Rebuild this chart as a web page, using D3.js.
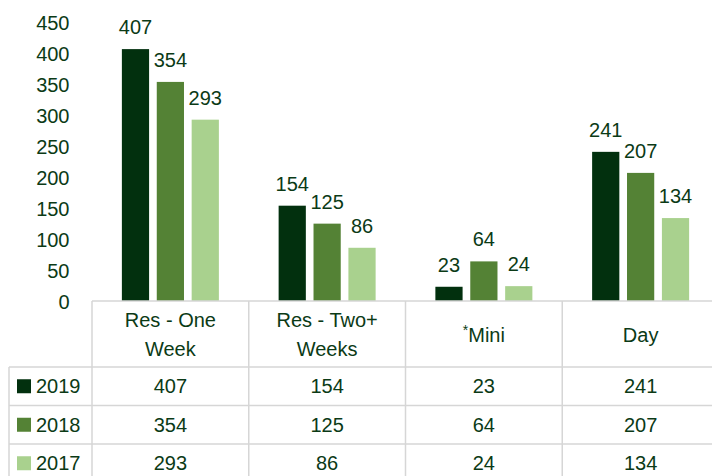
<!DOCTYPE html>
<html>
<head>
<meta charset="utf-8">
<script src="https://cdn.jsdelivr.net/npm/d3@7/dist/d3.min.js"></script>
<style>
  html, body { margin: 0; padding: 0; background: #fff; }
  svg { display: block; }
  text { font-family: "Liberation Sans", Arial, sans-serif; fill: #0b3a16; }
</style>
</head>
<body>
<svg id="chart" width="712" height="476"></svg>
<script>
// ---- data ----
const categories = ["Res - One Week", "Res - Two+ Weeks", "*Mini", "Day"];
const headerLines = [["Res - One", "Week"], ["Res - Two+", "Weeks"], ["*Mini"], ["Day"]];
const seriesNames = ["2019", "2018", "2017"];
const values2019 = [407, 154, 23, 241];
const values2018 = [354, 125, 64, 207];
const values2017 = [293, 86, 24, 134];
const yTicks = [0, 50, 100, 150, 200, 250, 300, 350, 400, 450];
const seriesColors = ["#02300e", "#548235", "#a9d18e"];

const seriesValues = [values2019, values2018, values2017];
const series = seriesNames.map((name, i) => ({ name, color: seriesColors[i], values: seriesValues[i] }));

// ---- layout ----
const W = 712, H = 476;
const plotLeft = 92, plotRight = 719;
const baseY = 301, topY = 22.5;
const svg = d3.select("#chart");

const x = d3.scaleBand().domain(categories).range([plotLeft, plotRight]).padding(0);
const groupW = 97;
const x1 = d3.scaleBand().domain(seriesNames).range([0, groupW]).paddingInner(0.22);
const y = d3.scaleLinear().domain([0, 450]).range([baseY, topY]);

const fs = 20;
const gridColor = "#d6d6d6";

// y-axis tick labels (no line)
const yAxis = d3.axisLeft(y).tickValues(yTicks).tickSize(0).tickPadding(0);
const gy = svg.append("g").attr("transform", "translate(69.5,1)").call(yAxis);
gy.select(".domain").remove();
gy.selectAll("text").attr("font-size", fs).attr("fill", "#0b3a16")
  .style("font-family", "'Liberation Sans', Arial, sans-serif");

// bars
const groups = svg.append("g").selectAll("g").data(series).join("g");
groups.selectAll("rect")
  .data(s => s.values.map((v, i) => ({ s, v, c: categories[i] })))
  .join("rect")
  .attr("x", d => x(d.c) + (x.bandwidth() - groupW) / 2 + x1(d.s.name))
  .attr("width", x1.bandwidth())
  .attr("y", d => y(d.v))
  .attr("height", d => baseY - y(d.v))
  .attr("fill", d => d.s.color);

// value labels
groups.selectAll("text.val")
  .data(s => s.values.map((v, i) => ({ s, v, c: categories[i] })))
  .join("text")
  .attr("class", "val")
  .attr("x", d => x(d.c) + (x.bandwidth() - groupW) / 2 + x1(d.s.name) + x1.bandwidth() / 2)
  .attr("y", d => y(d.v) - 15)
  .attr("text-anchor", "middle")
  .attr("font-size", fs)
  .text(d => d.v);

// ---- data table ----
const headerTop = baseY, headerBottom = 367;
const rowH = 38.5;
const rows = d3.scaleBand().domain(seriesNames).range([headerBottom, headerBottom + rowH * 3]);
const legendLeft = 9;
const tbl = svg.append("g");

// horizontal lines
tbl.append("line").attr("x1", plotLeft).attr("x2", W).attr("y1", headerTop).attr("y2", headerTop);
[headerBottom, ...seriesNames.map(n => rows(n) + rows.bandwidth())].forEach(yy => {
  tbl.append("line").attr("x1", legendLeft).attr("x2", W).attr("y1", yy).attr("y2", yy);
});
// vertical lines
tbl.append("line").attr("x1", legendLeft).attr("x2", legendLeft).attr("y1", headerBottom).attr("y2", H);
categories.forEach(c => {
  tbl.append("line").attr("x1", x(c)).attr("x2", x(c)).attr("y1", headerTop).attr("y2", H);
});
tbl.selectAll("line").attr("stroke", gridColor).attr("stroke-width", 1.5);

// header text
categories.forEach((c, i) => {
  const cx = x(c) + x.bandwidth() / 2;
  const lines = headerLines[i];
  if (lines.length === 2) {
    lines.forEach((ln, j) => {
      tbl.append("text").attr("x", cx).attr("y", 327 + j * 29)
        .attr("text-anchor", "middle").attr("font-size", fs).text(ln);
    });
  } else {
    const t = tbl.append("text").attr("x", cx).attr("y", 342)
      .attr("text-anchor", "middle").attr("font-size", fs);
    if (lines[0].startsWith("*")) {
      t.append("tspan").attr("font-size", 14).attr("dy", -7).text("*");
      t.append("tspan").attr("dy", 7).text(lines[0].slice(1));
    } else {
      t.text(lines[0]);
    }
  }
});

// row cells
series.forEach(s => {
  const cy = rows(s.name) + rows.bandwidth() / 2;
  tbl.append("rect").attr("x", 17).attr("y", cy - 7).attr("width", 14).attr("height", 14).attr("fill", s.color);
  tbl.append("text").attr("x", 36).attr("y", cy).attr("dy", "0.36em").attr("font-size", fs).text(s.name);
  s.values.forEach((v, i) => {
    tbl.append("text").attr("x", x(categories[i]) + x.bandwidth() / 2).attr("y", cy).attr("dy", "0.36em")
      .attr("text-anchor", "middle").attr("font-size", fs).text(v);
  });
});
</script>
</body>
</html>
